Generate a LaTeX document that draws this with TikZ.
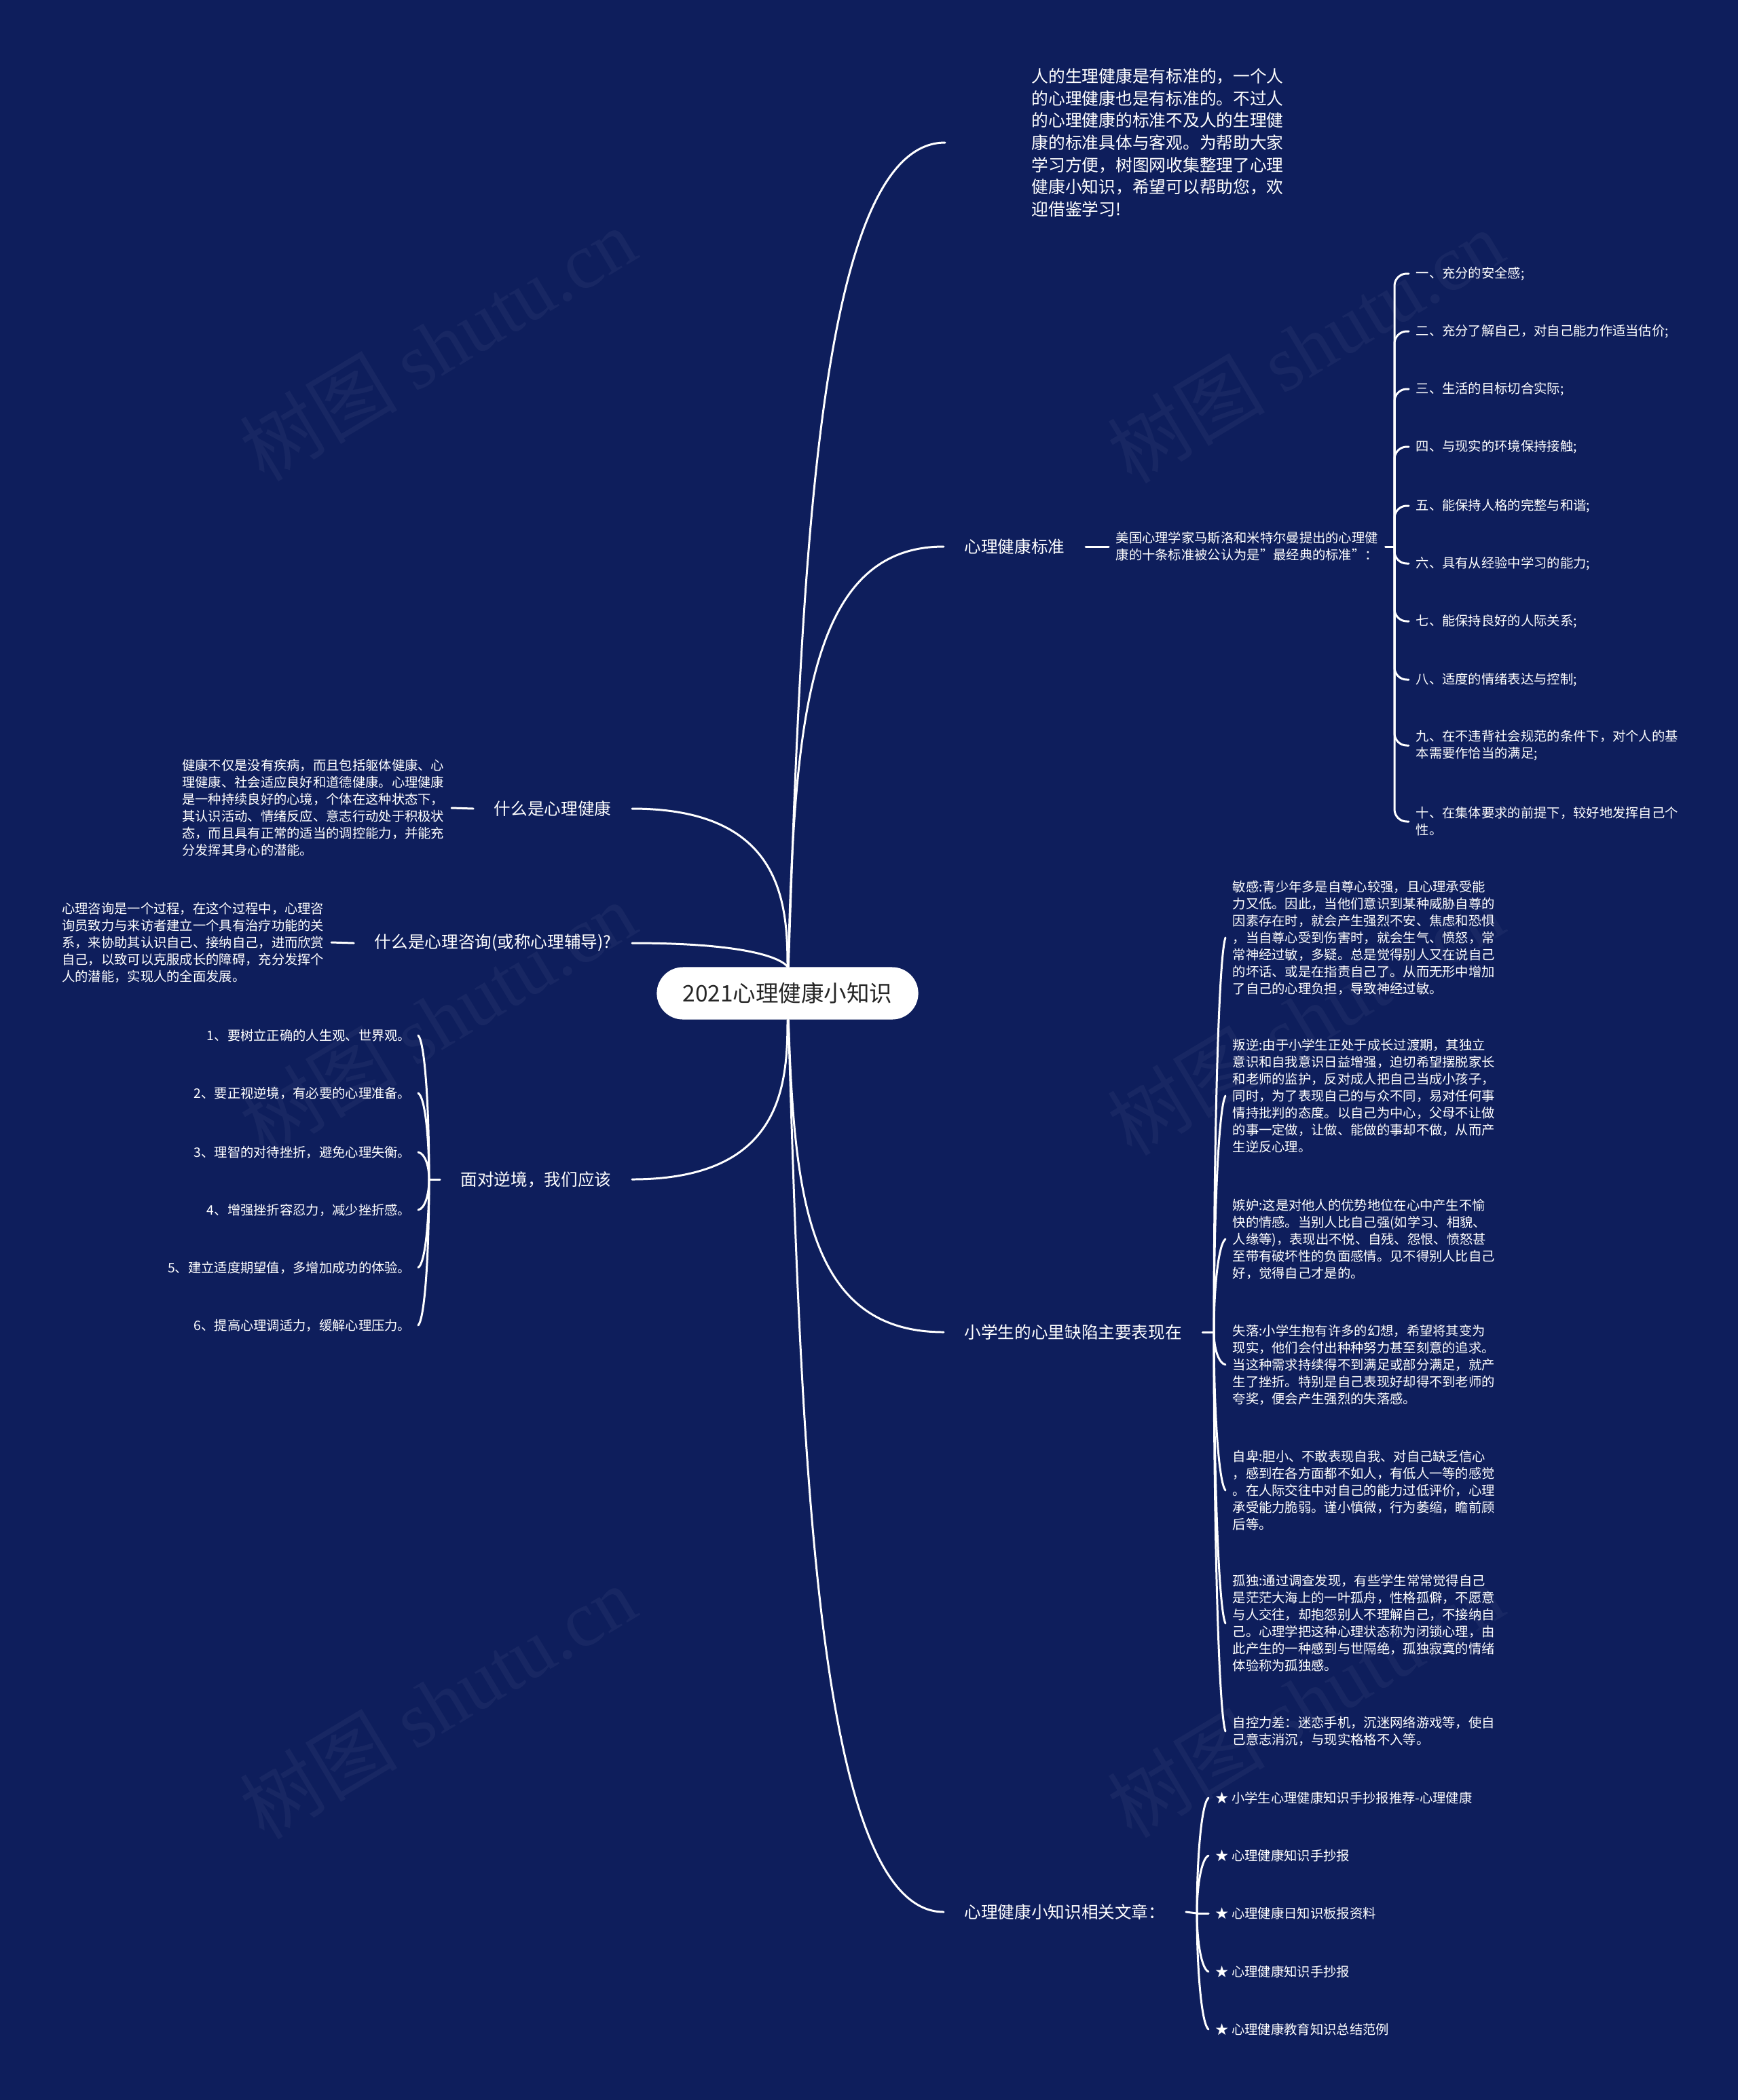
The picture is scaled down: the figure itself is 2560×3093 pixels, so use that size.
\documentclass[tikz,border=0pt]{standalone}
\usepackage{fontspec}
\setmainfont{Noto Sans CJK SC}
\newfontfamily\wmserif{Liberation Serif}
\definecolor{bg}{RGB}{14,30,92}
\begin{document}
\begin{tikzpicture}[x=0.01cm,y=-0.01cm,
  conn/.style={draw=white,line width=0.85pt,line cap=round},
  rootbox/.style={fill=white,rounded corners=0.385cm,minimum width=3.85cm,minimum height=0.77cm,inner sep=0pt,text=black!85,font=\fontsize{9.53pt}{11pt}\selectfont},
  lbl/.style={text=white,font=\fontsize{7pt}{9pt}\selectfont,inner xsep=0.3cm,inner ysep=0.05cm},
  intro/.style={text=white,font=\fontsize{7.03pt}{9.25pt}\selectfont,align=left,inner xsep=1.27cm,inner ysep=0.05cm},
  small/.style={text=white,font=\fontsize{5.49pt}{7.11pt}\selectfont,align=left,inner xsep=0.1cm,inner ysep=0.05cm},
  wm/.style={text=white,opacity=0.045,font=\fontsize{33pt}{36pt}\selectfont,rotate=31},
]
\path[use as bounding box,fill=bg] (0,0) rectangle (2560,3093);

% watermarks
\node[wm] (wm1) at (645,507) {树图 {\wmserif shutu.cn}};
\node[wm] (wm2) at (1923,510) {树图 {\wmserif shutu.cn}};
\node[wm] (wm3) at (645,1500) {树图 {\wmserif shutu.cn}};
\node[wm] (wm4) at (1923,1500) {树图 {\wmserif shutu.cn}};
\node[wm] (wm5) at (645,2507) {树图 {\wmserif shutu.cn}};
\node[wm] (wm6) at (1923,2505) {树图 {\wmserif shutu.cn}};

% root
\node[rootbox] (R) at (1160,1463) {2021心理健康小知识};

% first level
\node[intro,anchor=west] (intro) at (1392,210) {人的生理健康是有标准的，一个人\\的心理健康也是有标准的。不过人\\的心理健康的标准不及人的生理健\\康的标准具体与客观。为帮助大家\\学习方便，树图网收集整理了心理\\健康小知识，希望可以帮助您，欢\\迎借鉴学习!};
\node[lbl,anchor=west] (std) at (1390,805) {心理健康标准};
\node[lbl,anchor=west] (def) at (1390,1962) {小学生的心里缺陷主要表现在};
\node[lbl,anchor=west] (art) at (1390,2816) {心理健康小知识相关文章：};
\node[lbl,anchor=east] (what) at (931,1191) {什么是心理健康};
\node[lbl,anchor=east] (cons) at (931,1389) {什么是心理咨询(或称心理辅导)?};
\node[lbl,anchor=east] (face) at (931,1737) {面对逆境，我们应该};

\draw[conn] (R) .. controls +(20,-600) and +(-190,0) .. (intro.west);
\draw[conn] (R) .. controls +(10,-400) and +(-200,0) .. (std.west);
\draw[conn] (R) .. controls +(10,300) and +(-200,0) .. (def.west);
\draw[conn] (R) .. controls +(20,650) and +(-190,0) .. (art.west);
\draw[conn] (R) .. controls +(0,-135) and +(220,0) .. (what.east);
\draw[conn] (R) .. controls +(0,-37) and +(220,0) .. (cons.east);
\draw[conn] (R) .. controls +(0,137) and +(220,0) .. (face.east);

% 什么是心理健康
\node[small,anchor=east] (whatc) at (665,1190) {健康不仅是没有疾病，而且包括躯体健康、心\\理健康、社会适应良好和道德健康。心理健康\\是一种持续良好的心境，个体在这种状态下，\\其认识活动、情绪反应、意志行动处于积极状\\态，而且具有正常的适当的调控能力，并能充\\分发挥其身心的潜能。};
\draw[conn] (what.west) -- (whatc.east);

% 什么是心理咨询
\node[small,anchor=east] (consc) at (488,1388) {心理咨询是一个过程，在这个过程中，心理咨\\询员致力与来访者建立一个具有治疗功能的关\\系，来协助其认识自己、接纳自己，进而欣赏\\自己，以致可以克服成长的障碍，充分发挥个\\人的潜能，实现人的全面发展。};
\draw[conn] (cons.west) -- (consc.east);

% 面对逆境
\coordinate (facej) at (632,1737);
\draw[conn] (face.west) -- (facej);
\node[small,anchor=east] (f1) at (616,1525) {1、要树立正确的人生观、世界观。};
\node[small,anchor=east] (f2) at (616,1610) {2、要正视逆境，有必要的心理准备。};
\node[small,anchor=east] (f3) at (616,1697) {3、理智的对待挫折，避免心理失衡。};
\node[small,anchor=east] (f4) at (616,1782) {4、增强挫折容忍力，减少挫折感。};
\node[small,anchor=east] (f5) at (616,1867) {5、建立适度期望值，多增加成功的体验。};
\node[small,anchor=east] (f6) at (616,1952) {6、提高心理调适力，缓解心理压力。};
\draw[conn] (facej) .. controls +(0,-106) and +(10,11) .. (f1.east);
\draw[conn] (facej) .. controls +(0,-63) and +(10,6) .. (f2.east);
\draw[conn] (facej) .. controls +(0,-20) and +(10,2) .. (f3.east);
\draw[conn] (facej) .. controls +(0,22) and +(10,-2) .. (f4.east);
\draw[conn] (facej) .. controls +(0,65) and +(10,-6) .. (f5.east);
\draw[conn] (facej) .. controls +(0,107) and +(10,-11) .. (f6.east);

% 心理健康标准
\node[small,anchor=west] (stdc) at (1633,805) {美国心理学家马斯洛和米特尔曼提出的心理健\\康的十条标准被公认为是"最经典的标准"：};
\draw[conn] (std.east) -- (stdc.west);
\coordinate (stdj) at (2054,805);
\draw[conn] (stdc.east) -- (stdj);
\node[small,anchor=west] (s1) at (2075,403) {一、充分的安全感;};
\node[small,anchor=west] (s2) at (2075,488) {二、充分了解自己，对自己能力作适当估价;};
\node[small,anchor=west] (s3) at (2075,573) {三、生活的目标切合实际;};
\node[small,anchor=west] (s4) at (2075,658) {四、与现实的环境保持接触;};
\node[small,anchor=west] (s5) at (2075,745) {五、能保持人格的完整与和谐;};
\node[small,anchor=west] (s6) at (2075,830) {六、具有从经验中学习的能力;};
\node[small,anchor=west] (s7) at (2075,915) {七、能保持良好的人际关系;};
\node[small,anchor=west] (s8) at (2075,1001) {八、适度的情绪表达与控制;};
\node[small,anchor=west] (s9) at (2075,1098) {九、在不违背社会规范的条件下，对个人的基\\本需要作恰当的满足;};
\node[small,anchor=west] (s10) at (2075,1210) {十、在集体要求的前提下，较好地发挥自己个\\性。};
\foreach \i in {1,...,10} \draw[conn,rounded corners=0.18cm] (stdj) |- (s\i.west);

% 小学生的心里缺陷
\coordinate (defj) at (1788,1962);
\draw[conn] (def.east) -- (defj);
\node[small,anchor=west] (d1) at (1805,1381) {敏感:青少年多是自尊心较强，且心理承受能\\力又低。因此，当他们意识到某种威胁自尊的\\因素存在时，就会产生强烈不安、焦虑和恐惧\\，当自尊心受到伤害时，就会生气、愤怒，常\\常神经过敏，多疑。总是觉得别人又在说自己\\的坏话、或是在指责自己了。从而无形中增加\\了自己的心理负担，导致神经过敏。};
\node[small,anchor=west] (d2) at (1805,1614) {叛逆:由于小学生正处于成长过渡期，其独立\\意识和自我意识日益增强，迫切希望摆脱家长\\和老师的监护，反对成人把自己当成小孩子，\\同时，为了表现自己的与众不同，易对任何事\\情持批判的态度。以自己为中心，父母不让做\\的事一定做，让做、能做的事却不做，从而产\\生逆反心理。};
\node[small,anchor=west] (d3) at (1805,1825) {嫉妒:这是对他人的优势地位在心中产生不愉\\快的情感。当别人比自己强(如学习、相貌、\\人缘等)，表现出不悦、自残、怨恨、愤怒甚\\至带有破坏性的负面感情。见不得别人比自己\\好，觉得自己才是的。};
\node[small,anchor=west] (d4) at (1805,2010) {失落:小学生抱有许多的幻想，希望将其变为\\现实，他们会付出种种努力甚至刻意的追求。\\当这种需求持续得不到满足或部分满足，就产\\生了挫折。特别是自己表现好却得不到老师的\\夸奖，便会产生强烈的失落感。};
\node[small,anchor=west] (d5) at (1805,2195) {自卑:胆小、不敢表现自我、对自己缺乏信心\\，感到在各方面都不如人，有低人一等的感觉\\。在人际交往中对自己的能力过低评价，心理\\承受能力脆弱。谨小慎微，行为萎缩，瞻前顾\\后等。};
\node[small,anchor=west] (d6) at (1805,2391) {孤独:通过调查发现，有些学生常常觉得自己\\是茫茫大海上的一叶孤舟，性格孤僻，不愿意\\与人交往，却抱怨别人不理解自己，不接纳自\\己。心理学把这种心理状态称为闭锁心理，由\\此产生的一种感到与世隔绝，孤独寂寞的情绪\\体验称为孤独感。};
\node[small,anchor=west] (d7) at (1805,2550) {自控力差：迷恋手机，沉迷网络游戏等，使自\\己意志消沉，与现实格格不入等。};
\draw[conn] (defj) .. controls +(0,-290) and +(-10,29) .. (d1.west);
\draw[conn] (defj) .. controls +(0,-174) and +(-10,17) .. (d2.west);
\draw[conn] (defj) .. controls +(0,-68) and +(-10,7) .. (d3.west);
\draw[conn] (defj) .. controls +(0,24) and +(-10,-2) .. (d4.west);
\draw[conn] (defj) .. controls +(0,116) and +(-10,-12) .. (d5.west);
\draw[conn] (defj) .. controls +(0,214) and +(-10,-21) .. (d6.west);
\draw[conn] (defj) .. controls +(0,294) and +(-10,-29) .. (d7.west);

% 相关文章
\coordinate (artj) at (1763,2818);
\draw[conn] (art.east) -- (artj);
\node[small,anchor=west] (a1) at (1780,2648) {★ 小学生心理健康知识手抄报推荐-心理健康};
\node[small,anchor=west] (a2) at (1780,2733) {★ 心理健康知识手抄报};
\node[small,anchor=west] (a3) at (1780,2818) {★ 心理健康日知识板报资料};
\node[small,anchor=west] (a4) at (1780,2904) {★ 心理健康知识手抄报};
\node[small,anchor=west] (a5) at (1780,2989) {★ 心理健康教育知识总结范例};
\draw[conn] (artj) .. controls +(0,-85) and +(-10,8) .. (a1.west);
\draw[conn] (artj) .. controls +(0,-42) and +(-10,4) .. (a2.west);
\draw[conn] (artj) -- (a3.west);
\draw[conn] (artj) .. controls +(0,43) and +(-10,-4) .. (a4.west);
\draw[conn] (artj) .. controls +(0,85) and +(-10,-8) .. (a5.west);
\end{tikzpicture}
\end{document}
